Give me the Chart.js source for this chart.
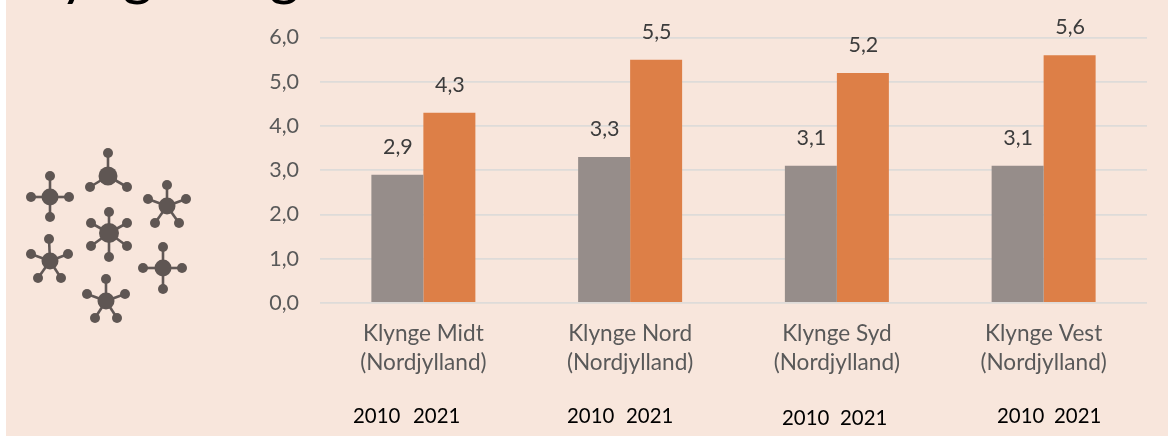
<!DOCTYPE html>
<html><head><meta charset="utf-8">
<script src="https://cdn.jsdelivr.net/npm/chart.js@4"></script>
<style>
html,body{margin:0;padding:0;background:#fff;overflow:hidden}
#stage{position:absolute;left:6px;top:0;width:1162px;height:436px;background:#f8e6dc;overflow:hidden}
#wrap{position:absolute;left:0;top:0;width:1168px;height:436px;overflow:hidden}
canvas{position:absolute;left:0;top:0}
.t{position:absolute;font-family:Lato,sans-serif;white-space:nowrap;line-height:1}
.title{font-size:58px;color:#000;left:8px;top:-57px;word-spacing:19px}
.yr{font-size:20.4px;color:#000}
svg{position:absolute;left:0;top:0}
</style></head><body>
<div id="wrap"><div id="stage"></div>
<canvas id="c" width="1168" height="436"></canvas>
<svg id="icon" width="1168" height="436"></svg>
<div class="t title">Klynger og</div>
<div id="years"></div></div>
<script>
const categories=[["Klynge Midt","(Nordjylland)"],["Klynge Nord","(Nordjylland)"],["Klynge Syd","(Nordjylland)"],["Klynge Vest","(Nordjylland)"]];
const seriesNames=["2010","2021"];
const values2010=[2.9,3.3,3.1,3.1];
const values2021=[4.3,5.5,5.2,5.6];
const yearLabels=[[353,413,405],[567,626,405],[782,840,407],[997,1054,405]];
const molecules=[
[50,197,8.5,[[50,176],[69,197],[31,197],[50,217]]],
[108,176,9.5,[[108,153],[90,187],[127,187]]],
[167,206,8.5,[[167,185],[148,199],[186,199],[155,223],[179,223]]],
[109,233,10,[[109,212],[91,223],[127,223],[91,246],[127,246],[109,257]]],
[50,261,8.5,[[49,239],[31,254],[68,254],[38,278],[61,278]]],
[163,268,8.5,[[163,247],[143,268],[182,268],[163,289]]],
[106,301,8.5,[[106,279],[87,294],[125,294],[95,318],[117,318]]]];

const fmt=v=>v.toFixed(1).replace('.',',');
const valueLabels={id:'valueLabels',afterDatasetsDraw(chart){
  const ctx=chart.ctx;ctx.save();
  ctx.font='21.5px Lato';ctx.fillStyle='#3c3c3c';ctx.textAlign='center';ctx.textBaseline='middle';
  chart.data.datasets.forEach((ds,i)=>{
    chart.getDatasetMeta(i).data.forEach((el,j)=>{
      ctx.fillText(fmt(ds.data[j]),el.x+0.5,el.y-28);
    });
  });
  ctx.restore();
}};
new Chart(document.getElementById('c'),{
  type:'bar',
  data:{labels:categories,datasets:[
    {label:seriesNames[0],data:values2010,backgroundColor:'#968d8a',categoryPercentage:0.503,barPercentage:1},
    {label:seriesNames[1],data:values2021,backgroundColor:'#dd7f47',categoryPercentage:0.503,barPercentage:1}
  ]},
  options:{
    responsive:false,animation:false,
    layout:{padding:{left:0,right:21,top:37.5,bottom:0}},
    plugins:{legend:{display:false},title:{display:false},tooltip:{enabled:false}},
    scales:{
      x:{grid:{display:false},border:{display:false},
        ticks:{color:'#595959',font:{family:'Lato',size:22.6,lineHeight:1.28},padding:8,maxRotation:0,autoSkip:false},
        afterFit(s){s.height=133;}},
      y:{min:0,max:6,
        grid:{color:'#dedbd9',lineWidth:1.8,drawTicks:false},border:{display:false},
        ticks:{stepSize:1,color:'#595959',font:{family:'Lato',size:21.5},padding:21,callback:v=>fmt(v)},
        afterFit(s){s.width=320;}}
    }
  },
  plugins:[valueLabels]
});
const yrs=document.getElementById('years');
yearLabels.forEach(r=>{
  seriesNames.forEach((n,i)=>{
    const d=document.createElement('div');d.className='t yr';d.textContent=n;
    d.style.left=r[i]+'px';d.style.top=r[2]+'px';yrs.appendChild(d);
  });
});
const NS='http://www.w3.org/2000/svg',svg=document.getElementById('icon');
function add(tag,a){const e=document.createElementNS(NS,tag);for(const k in a)e.setAttribute(k,a[k]);svg.appendChild(e);}
molecules.forEach(([x,y,r,nodes])=>{
  nodes.forEach(([a,b])=>{
    add('line',{x1:x,y1:y,x2:a,y2:b,stroke:'#615856','stroke-width':2.6});
    add('circle',{cx:a,cy:b,r:5,fill:'#5f5653'});
  });
  add('circle',{cx:x,cy:y,r:r,fill:'#5f5653'});
});
</script></body></html>
